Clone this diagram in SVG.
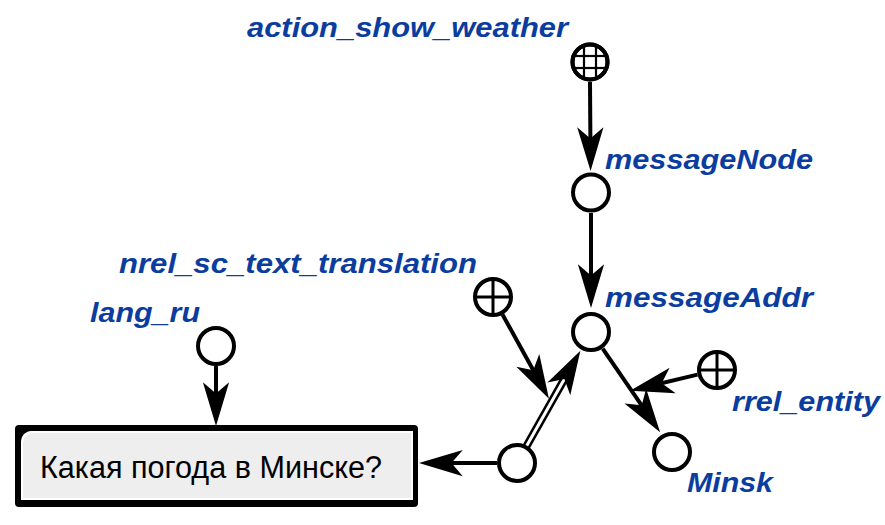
<svg xmlns="http://www.w3.org/2000/svg" width="885" height="525" viewBox="0 0 885 525">
<style>
.lbl{font-family:"Liberation Sans",Arial,sans-serif;font-weight:bold;font-style:italic;font-size:28px;fill:#0b3d9f}
.node{fill:#fff;stroke:#000;stroke-width:4}
.cross{stroke:#000;stroke-width:3}
.grid{stroke:#000;stroke-width:2.2}
.arc{stroke:#000;stroke-width:4;fill:none}
.dbl-out{stroke:#000;stroke-width:8;fill:none}
.dbl-in{stroke:#fff;stroke-width:3;fill:none}
.txt{font-family:"Liberation Sans",Arial,sans-serif;font-size:31px;fill:#000}
</style>
<defs>
<marker id="ah" markerUnits="userSpaceOnUse" orient="auto" refX="0" refY="0" markerWidth="50" markerHeight="30" viewBox="-26 -12 40 24" overflow="visible">
<path d="M12,0 L-23,-10.5 L-14,0 L-23,10.5 Z" fill="#000"/>
</marker>
</defs>

<g id="connectors">
<line class="arc" x1="590" y1="82" x2="590.5" y2="156" marker-end="url(#ah)"/>
<line class="arc" x1="591" y1="213" x2="591" y2="293" marker-end="url(#ah)"/>
<line class="arc" x1="602.7" y1="348.6" x2="651.6" y2="419.8" marker-end="url(#ah)"/>
<line class="arc" x1="697.5" y1="374.6" x2="644.7" y2="387.2" marker-end="url(#ah)"/>
<line class="dbl-out" x1="526.3" y1="446.5" x2="573" y2="363.8"/>
<line class="dbl-in" x1="526.3" y1="446.5" x2="573" y2="363.8" marker-end="url(#ah)"/>
<line class="arc" x1="502.5" y1="314.5" x2="541.7" y2="385.5" marker-end="url(#ah)"/>
<line class="arc" x1="497" y1="463" x2="434" y2="463" marker-end="url(#ah)"/>
<line class="arc" x1="216" y1="366" x2="216" y2="411" marker-end="url(#ah)"/>
</g>

<g id="action_show_weather">
<circle class="node" cx="590" cy="62" r="17.5"/>
<line class="grid" x1="584" y1="46" x2="584" y2="78"/>
<line class="grid" x1="596" y1="46" x2="596" y2="78"/>
<line class="grid" x1="574" y1="56" x2="606" y2="56"/>
<line class="grid" x1="574" y1="68" x2="606" y2="68"/>
<circle cx="590" cy="62" r="17.5" fill="none" stroke="#000" stroke-width="4"/>
<text class="lbl" x="247" y="37" textLength="321" lengthAdjust="spacingAndGlyphs">action_show_weather</text>
</g>

<g id="messageNode">
<circle class="node" cx="591" cy="192.5" r="18"/>
<text class="lbl" x="605" y="169" textLength="208" lengthAdjust="spacingAndGlyphs">messageNode</text>
</g>

<g id="messageAddr">
<circle class="node" cx="591" cy="332" r="18"/>
<text class="lbl" x="605" y="307" textLength="208" lengthAdjust="spacingAndGlyphs">messageAddr</text>
</g>

<g id="nrel_sc_text_translation">
<circle class="node" cx="493" cy="297" r="18"/>
<line class="cross" x1="493" y1="279" x2="493" y2="315"/>
<line class="cross" x1="475" y1="297" x2="511" y2="297"/>
<text class="lbl" x="119" y="273" textLength="358" lengthAdjust="spacingAndGlyphs">nrel_sc_text_translation</text>
</g>

<g id="rrel_entity">
<circle class="node" cx="717" cy="370" r="18"/>
<line class="cross" x1="717" y1="352" x2="717" y2="388"/>
<line class="cross" x1="699" y1="370" x2="735" y2="370"/>
<text class="lbl" x="732" y="411" textLength="148" lengthAdjust="spacingAndGlyphs">rrel_entity</text>
</g>

<g id="Minsk">
<circle class="node" cx="672" cy="452" r="18"/>
<text class="lbl" x="687" y="492" textLength="86" lengthAdjust="spacingAndGlyphs">Minsk</text>
</g>

<g id="lang_ru">
<circle class="node" cx="216" cy="346" r="18"/>
<text class="lbl" x="90" y="322" textLength="110" lengthAdjust="spacingAndGlyphs">lang_ru</text>
</g>

<g id="tuple">
<circle class="node" cx="517" cy="463" r="18"/>
</g>

<g id="text_link">
<rect x="15" y="425" width="403" height="82" rx="4" fill="#000"/>
<path d="M31,431 H413 V500 H21 V441 Q21,437 24,434 L27,432 Q29,431 31,431 Z" fill="#fff"/>
<path d="M33,433 H411 V498 H23 V443 Q23,439 26,436 L29,434 Q31,433 33,433 Z" fill="#eeeeee"/>
<text class="txt" x="40" y="478" textLength="342" lengthAdjust="spacingAndGlyphs">Какая погода в Минске?</text>
</g>
</svg>
